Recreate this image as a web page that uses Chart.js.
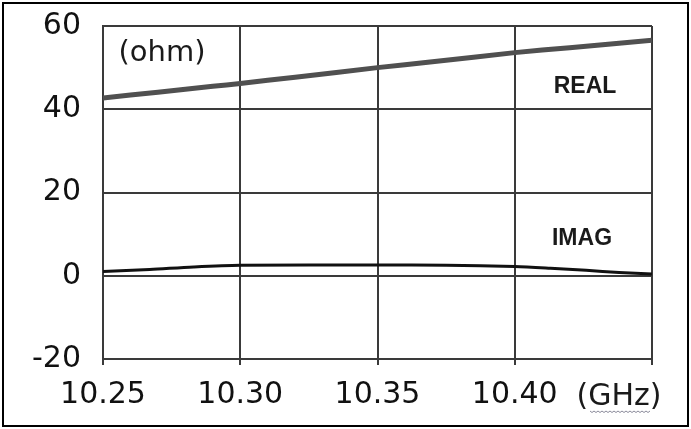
<!DOCTYPE html>
<html>
<head>
<meta charset="utf-8">
<script src="https://cdn.jsdelivr.net/npm/chart.js@4"></script>
<style>
  body { margin: 0; background: #fff; }
  #wrap { position: absolute; left: 2px; top: 2px; width: 687px; height: 425px;
          border: 2px solid #000; box-sizing: border-box; }
</style>
</head>
<body>
<div id="wrap"><canvas id="myChart" width="683" height="421"></canvas></div>
<script>
// values (GHz / ohm)
var freqReal = [10.25, 10.27, 10.29, 10.30, 10.32, 10.35, 10.37, 10.40, 10.42, 10.45];
var realOhm  = [42.7, 44.1, 45.5, 46.2, 47.7, 50.0, 51.4, 53.6, 54.8, 56.6];

var freqImag = [10.25, 10.267, 10.283, 10.30, 10.35, 10.375, 10.40, 10.413, 10.426, 10.438, 10.45];
var imagOhm  = [1.0, 1.5, 2.1, 2.5, 2.6, 2.5, 2.2, 1.8, 1.3, 0.8, 0.4];

var yTicks = [-20, 0, 20, 40, 60];

function pts(xs, ys) {
    return xs.map(function (x, i) { return {x: x, y: ys[i]}; });
}

const gridColor = '#3a3a3a';

const textPlugin = {
    id: 'labelsOnPlot',
    afterDraw: (chart) => {
        const {ctx} = chart;
        ctx.save();
        ctx.fillStyle = '#1a1a1a';
        ctx.textAlign = 'center';
        ctx.textBaseline = 'middle';
        ctx.font = '29px "DejaVu Sans"';
        ctx.fillText('(ohm)', 158, 49);
        ctx.font = 'bold 23px "Liberation Sans"';
        ctx.fillText('REAL', 581, 83);
        ctx.fillText('IMAG', 578, 235);
        ctx.font = '30px "DejaVu Sans"';
        ctx.fillText('(GHz)', 615, 393);
        // little wavy spell-check underline under GHz
        ctx.strokeStyle = '#8a8a9a';
        ctx.lineWidth = 1;
        ctx.beginPath();
        for (let x = 586, i = 0; x <= 646; x += 2, i++) {
            const y = 407 + (i % 2 ? 1.5 : 0);
            if (i === 0) ctx.moveTo(x, y); else ctx.lineTo(x, y);
        }
        ctx.stroke();
        ctx.restore();
    }
};

new Chart(document.getElementById('myChart'), {
    type: 'line',
    data: {
        datasets: [
        {
            label: 'REAL',
            data: pts(freqReal, realOhm),
            borderColor: '#505050',
            borderWidth: 5,
            pointRadius: 0,
            tension: 0.2,
        },
        {
            label: 'IMAG',
            data: pts(freqImag, imagOhm),
            borderColor: '#111111',
            borderWidth: 3,
            pointRadius: 0,
            tension: 0.3,
        },
    ]
    },
    options: {
        responsive: false,
        animation: false,
        layout: { padding: { top: 0, right: 35, left: 0, bottom: 0 } },
        plugins: {
            legend: { display: false },
            tooltip: { enabled: false },
        },
        scales: {
            x: {
                type: 'linear',
                min: 10.25,
                max: 10.45,
                afterFit: (s) => { s.height = 66; },
                border: { color: gridColor, width: 2 },
                grid: { color: gridColor, lineWidth: 2, tickLength: 6 },
                ticks: {
                    stepSize: 0.05,
                    autoSkip: false,
                    maxRotation: 0,
                    padding: 12,
                    color: '#111',
                    font: { family: 'DejaVu Sans', size: 30 },
                    callback: (v) => v > 10.449 ? '' : v.toFixed(2),
                },
            },
            y: {
                min: -20,
                max: 60,
                afterFit: (s) => { s.width = 99; s.paddingTop = 22; },
                afterBuildTicks: (s) => { s.ticks = yTicks.map(v => ({value: v})); },
                border: { color: gridColor, width: 2 },
                grid: { color: gridColor, lineWidth: 2, drawTicks: false },
                ticks: {
                    padding: 22,
                    color: '#111',
                    font: { family: 'DejaVu Sans', size: 30 },
                },
            },
        },
    },
    plugins: [textPlugin],
});
</script>
</body>
</html>
